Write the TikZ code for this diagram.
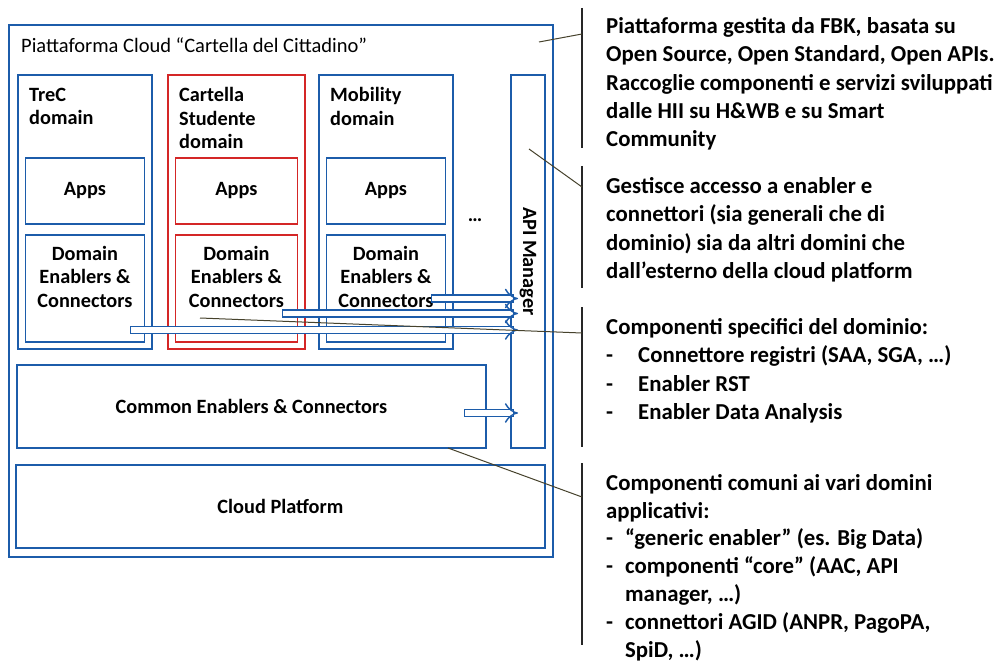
\documentclass[tikz,border=0pt]{standalone}
\usepackage{fontspec}
\setmainfont{Carlito}
\usepackage{tikz}
\usetikzlibrary{positioning,arrows.meta,calc}
\definecolor{boxblue}{RGB}{28,92,170}
\definecolor{boxred}{RGB}{212,38,38}
\definecolor{leadgray}{RGB}{70,66,44}

\begin{document}
\begin{tikzpicture}[x=1pt,y=-1pt,
	box/.style={draw=boxblue, line width=1.8pt, fill=white, inner sep=0pt},
	lbl/.style={font=\bfseries\fontsize{20.3}{23.5}\selectfont, inner sep=0pt},
	note/.style={font=\bfseries\fontsize{22.8}{28.2}\selectfont, align=left, anchor=north west, inner sep=0pt},
	flow/.style={draw=boxblue, line width=1.4pt, double=white, double distance=5.5pt, line cap=rect, -{Implies}},
	leader/.style={draw=leadgray, line width=1pt},
	bracket/.style={draw=black!85, line width=1.5pt}]
		\useasboundingbox (0,0) rectangle (1001,663);
		
		% platform frame
		\node[box, anchor=north west, minimum width=544, minimum height=532] (cloud) at (8,24) {};
		\node[anchor=west, inner sep=0pt, font=\fontsize{20.5}{24}\selectfont] (title) at (21,45) {Piattaforma Cloud “Cartella del Cittadino”};
		
		% domains
		\foreach \dn/\dx/\dw/\dc/\dl in {trec/17/134/boxblue/{TreC\\domain},stud/167/137/boxred/{Cartella\\Studente\\domain},mob/318/134/boxblue/{Mobility\\domain}}
		{
			\node[box, draw=\dc, anchor=north west, minimum width=\dw, minimum height=274] (\dn) at (\dx,74) {};
			\node[lbl, align=left, anchor=north west] (\dn lbl) at ([shift={(12pt,-13.5pt)}]\dn.north west) {\dl};
			\node[box, lbl, draw=\dc, minimum width=\dw-15, minimum height=66, below=83pt of \dn.north] (\dn apps) {Apps};
			\node[box, draw=\dc, minimum width=\dw-15, minimum height=107, below=9pt of \dn apps] (\dn dec) {};
			\node[lbl, align=center, anchor=north] (\dn dectxt) at ([yshift=-12pt]\dn dec.north) {Domain\\Enablers \&\\Connectors};
		}
		\node[lbl] (dots) at (475,220) {…};
		
		\node[box, anchor=north west, minimum width=34, minimum height=373] (api) at (510,74) {};
		\node[lbl, rotate=-90] (apilbl) at (api.center) {API Manager};
		
		\node[box, lbl, anchor=north west, minimum width=469, minimum height=83] (common) at (16,364) {Common Enablers \& Connectors};
		\node[box, lbl, anchor=north west, minimum width=529, minimum height=83] (platform) at (15,464) {Cloud Platform};
		
		% arrows into the API manager
		\coordinate (a1) at (435,298.5);
		\coordinate (a2) at (286,313.5);
		\coordinate (a3) at (134,330);
		\coordinate (a4) at (468,413);
		\foreach \a in {a1,a2,a3,a4}
			\draw[flow] (\a) -- ([xshift=8pt]\a -| api.west);
		
		% notes on the right
		\foreach \ya/\yb in {8/148,166/288,307/447,463/645}
			\draw[bracket] (582,\ya) -- (582,\yb);
		
		\node[note] (n1) at (606,17.5) {Piattaforma gestita da FBK, basata su\\Open Source, Open Standard, Open APIs.\\Raccoglie componenti e servizi sviluppati\\dalle HII su H\&WB e su Smart\\Community};
		\node[note] (n2) at (606,177.5) {Gestisce accesso a enabler e\\connettori (sia generali che di\\dominio) sia da altri domini che\\dall’esterno della cloud platform};
		\node[note] (n3) at (606,318.5) {Componenti specifici del dominio:\\\makebox[32pt][l]{-}Connettore registri (SAA, SGA, …)\\\makebox[32pt][l]{-}Enabler RST\\\makebox[32pt][l]{-}Enabler Data Analysis};
		\node[note, font=\bfseries\fontsize{22.8}{27.8}\selectfont] (n4) at (606,474) {Componenti comuni ai vari domini\\applicativi:\\\makebox[19pt][l]{-}“generic enabler” (es. Big Data)\\\makebox[19pt][l]{-}componenti “core” (AAC, API\\\hspace*{19pt}manager, …)\\\makebox[19pt][l]{-}connettori AGID (ANPR, PagoPA,\\\hspace*{19pt}SpiD, …)};
		
		% leader lines
		\coordinate (l1) at (539,42);
		\coordinate (l2) at (529,149);
		\coordinate (l3) at (200,318);
		\coordinate (l4) at (448,448);
		\draw[leader] (l1) -- (582,34);
		\draw[leader] (l2) -- (582,187);
		\draw[leader] (l3) -- (582,333);
		\draw[leader] (l4) -- (582,497);
\end{tikzpicture}
\end{document}
